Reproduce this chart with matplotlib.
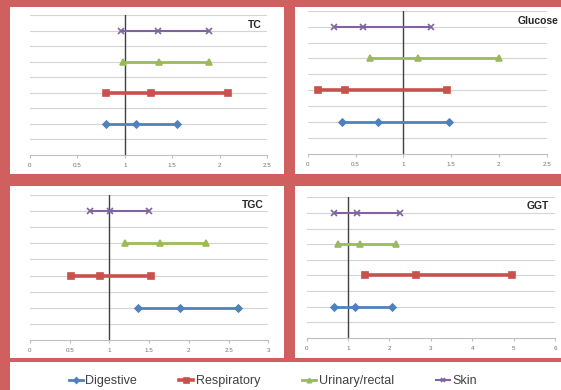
import numpy as np
import matplotlib
matplotlib.use('Agg')
from matplotlib import pyplot as plt
from matplotlib.patches import Rectangle

plt.rcParams['font.family'] = ['Liberation Sans', 'DejaVu Sans']

series = ['Digestive', 'Respiratory', 'Urinary/rectal', 'Skin']
rows = [2, 4, 6, 8]

# low, mid, high per series (Digestive, Respiratory, Urinary/rectal, Skin)
tc_low = [0.80, 0.80, 0.98, 0.96]
tc_mid = [1.12, 1.28, 1.36, 1.35]
tc_high = [1.55, 2.09, 1.89, 1.89]

glucose_low = [0.36, 0.11, 0.65, 0.27]
glucose_mid = [0.74, 0.39, 1.15, 0.58]
glucose_high = [1.48, 1.46, 2.00, 1.29]

tgc_low = [1.36, 0.52, 1.20, 0.75]
tgc_mid = [1.89, 0.88, 1.64, 1.01]
tgc_high = [2.62, 1.52, 2.21, 1.50]

ggt_low = [0.66, 1.41, 0.76, 0.67]
ggt_mid = [1.17, 2.64, 1.29, 1.21]
ggt_high = [2.05, 4.97, 2.16, 2.25]

tc_ticks = [0, 0.5, 1, 1.5, 2, 2.5]
glucose_ticks = [0, 0.5, 1, 1.5, 2, 2.5]
tgc_ticks = [0, 0.5, 1, 1.5, 2, 2.5, 3]
ggt_ticks = [0, 1, 2, 3, 4, 5, 6]

colors = ['#4f81bd', '#c9504d', '#9bbb59', '#8064a2']
markers = ['D', 's', '^', 'x']
msizes = [3.5, 4.5, 4, 4]
lwidths = [2.0, 2.6, 2.0, 1.5]

W, H = 561, 390
fig = plt.figure(figsize=(W/100, H/100), dpi=100)
fig.patch.set_facecolor('#d0605f')

def box(x0, y0, x1, y1):
    # pixel box (top-left origin) -> figure fraction
    return [x0/W, (H-y1)/H, (x1-x0)/W, (y1-y0)/H]

# white panels
for x0, y0, x1, y1 in [(10, 7, 284, 174), (295, 7, 561, 174),
                       (10, 186, 284, 358), (295, 186, 561, 358),
                       (10, 362, 561, 390)]:
    l, b, w, h = box(x0, y0, x1, y1)
    fig.add_artist(Rectangle((l, b), w, h, transform=fig.transFigure,
                             facecolor='white', edgecolor='none', zorder=0))

panels = [
    ('TC', box(30, 15, 267, 155), tc_low, tc_mid, tc_high, tc_ticks, (262, 25)),
    ('Glucose', box(307.7, 10.7, 546.7, 154), glucose_low, glucose_mid, glucose_high, glucose_ticks, (559, 21)),
    ('TGC', box(30, 195, 268.3, 340), tgc_low, tgc_mid, tgc_high, tgc_ticks, (264, 205)),
    ('GGT', box(306.7, 197.3, 555, 338), ggt_low, ggt_mid, ggt_high, ggt_ticks, (549, 206)),
]

handles = []
for name, pos, lo, mi, hi, ticks, tpos in panels:
    ax = fig.add_axes(pos)
    ax.set_facecolor('none')
    ax.set_xlim(ticks[0], ticks[-1])
    ax.set_ylim(0, 9)
    for y in range(1, 10):
        ax.axhline(y, color='#d4d4d4', lw=0.8, zorder=1)
    ax.axvline(1, color='#404040', lw=1.0, zorder=2)
    for i in range(4):
        ln, = ax.plot([lo[i], mi[i], hi[i]], [rows[i]] * 3, color=colors[i],
                      lw=lwidths[i], marker=markers[i], ms=msizes[i],
                      mew=1.2, zorder=3, label=series[i])
        if name == 'TC':
            handles.append(ln)
    ax.set_xticks(ticks)
    ax.set_xticklabels([('%g' % t) for t in ticks], fontsize=4.5, color='#6f6f6f')
    ax.set_yticks([])
    for s in ['top', 'right', 'left']:
        ax.spines[s].set_visible(False)
    ax.spines['bottom'].set_color('#bfbfbf')
    ax.tick_params(axis='x', length=2, color='#bfbfbf', pad=4)
    fig.text(tpos[0]/W, (H-tpos[1])/H, name, ha='right', va='center',
             fontsize=7.5, fontweight='bold', color='#262626')

fig.legend(handles=handles, loc='center', bbox_to_anchor=(273/W, (H-381)/H),
           ncol=4, frameon=False, fontsize=9, handlelength=1.1,
           handletextpad=0.2, columnspacing=3.4, labelcolor='#404040',
           markerscale=0.8)

fig.savefig('out.png', dpi=100, facecolor=fig.get_facecolor())
